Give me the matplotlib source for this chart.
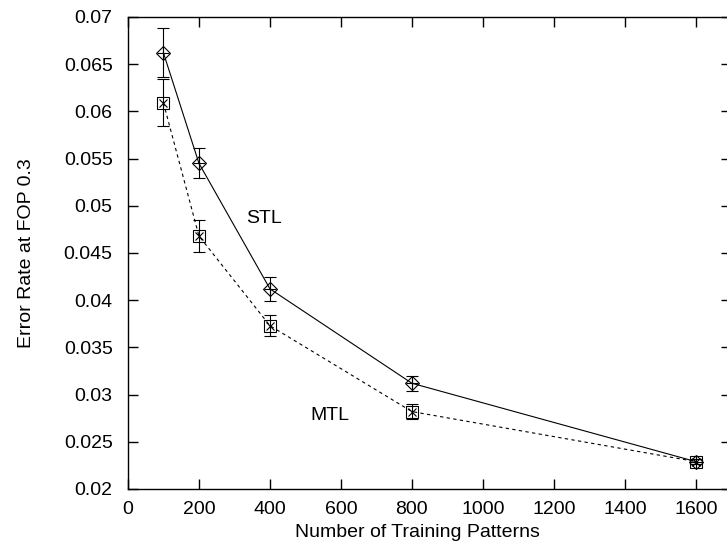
import matplotlib
matplotlib.use("Agg")
import matplotlib.pyplot as plt

# ── Data ──────────────────────────────────────────────────────────────────────
patterns = [100, 200, 400, 800, 1600]

stl_rate = [0.0662, 0.0545, 0.0412, 0.0312, 0.0229]
stl_err = [0.0026, 0.0016, 0.0013, 0.0008, 0.0003]

mtl_rate = [0.0609, 0.0468, 0.0373, 0.0282, 0.0229]
mtl_err = [0.0025, 0.0017, 0.0011, 0.0008, 0.0003]

x_ticks = [0, 200, 400, 600, 800, 1000, 1200, 1400, 1600]
y_ticks = [0.02, 0.025, 0.03, 0.035, 0.04, 0.045, 0.05, 0.055, 0.06, 0.065, 0.07]

# ── Figure ────────────────────────────────────────────────────────────────────
plt.rcParams["font.family"] = ["Liberation Sans", "DejaVu Sans"]
plt.rcParams["font.size"] = 14

fig = plt.figure(figsize=(7.27, 5.46), dpi=100)
# right spine lies just past the image edge, as in the reference
ax = fig.add_axes([0.176, 0.1044, 0.830, 0.8645])

lw = 0.8

# STL: solid line, diamond with cross
ax.errorbar(patterns, stl_rate, yerr=stl_err, color="black", lw=lw,
            elinewidth=lw, capsize=4.5, capthick=lw,
            marker="D", markersize=7, markerfacecolor="none",
            markeredgewidth=lw, zorder=3)
ax.plot(patterns, stl_rate, linestyle="none", marker="+", markersize=9,
        color="black", markeredgewidth=lw, zorder=4)

# MTL: dashed line, boxed X
ax.errorbar(patterns, mtl_rate, yerr=mtl_err, color="black", lw=lw,
            linestyle=(0, (3, 3)),
            elinewidth=lw, capsize=4.5, capthick=lw,
            marker="s", markersize=8, markerfacecolor="none",
            markeredgewidth=lw, zorder=3)
ax.plot(patterns, mtl_rate, linestyle="none", marker="x", markersize=6,
        color="black", markeredgewidth=lw, zorder=4)

ax.text(332, 0.0487, "STL", ha="left", va="center", fontsize=14)
ax.text(513, 0.0278, "MTL", ha="left", va="center", fontsize=14)

ax.set_xlim(0, 1700)
ax.set_ylim(0.02, 0.07)
ax.set_xticks(x_ticks)
ax.set_xticklabels([str(v) for v in x_ticks])
ax.set_yticks(y_ticks)
ax.set_yticklabels([f"{v:g}" for v in y_ticks])

ax.tick_params(direction="in", length=7, width=1, top=True, right=True,
               labelsize=14)
ax.tick_params(axis="x", pad=9)
ax.tick_params(axis="y", pad=11)
for spine in ax.spines.values():
    spine.set_linewidth(1.0)

ax.set_xlabel("Number of Training Patterns", fontsize=14)
ax.set_ylabel("Error Rate at FOP 0.3", fontsize=14)
ax.xaxis.set_label_coords(0.48, -0.075)
ax.yaxis.set_label_coords(-0.154, 0.5)

fig.savefig("out.png", dpi=100)
